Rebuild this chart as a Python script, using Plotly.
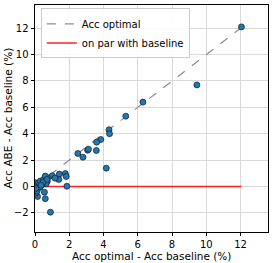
import plotly.graph_objects as go

acc_optimal = [12.05, 9.45, 6.3, 5.3, 4.32, 4.35, 3.84, 3.6, 3.58, 3.07, 3.12, 2.5, 2.8, 4.16,
               1.77, 1.82, 1.86, 1.42, 1.39, 1.01, 1.17, 0.74, 0.72, 0.65, 0.9, 0.6, 0.55, 0.15,
               0.04, 0.02, 0.12, 0.21, 0.31, 0.41, 0.5, 0.6, 0.7, 0.12, 0.21, 0.45, 0.3, 0.05, 0.35]
acc_abe = [12.1, 7.7, 6.4, 5.33, 4.3, 4.0, 3.56, 3.36, 2.73, 2.75, 2.83, 2.5, 2.22, 1.39,
           0.98, 0.76, 0.02, 0.94, 0.53, 0.81, 0.63, 0.66, 0.4, 0.2, -1.95, -0.92, -0.43, -0.76,
           -0.5, 0.28, 0.03, 0.28, 0.41, 0.15, 0.53, 0.79, 0.53, -0.35, -0.1, 0.3, -0.05, -0.15, 0.1]
x_title = "Acc optimal - Acc baseline (%)"
y_title = "Acc ABE - Acc baseline (%)"

xmax = max(acc_optimal)

fig = go.Figure()
fig.add_trace(go.Scatter(x=[0, xmax], y=[0, xmax], mode="lines", name="Acc optimal",
                         line=dict(color="#8c8c8c", dash="dash", width=1.2)))
fig.add_trace(go.Scatter(x=[0, xmax], y=[0, 0], mode="lines", name="on par with baseline",
                         line=dict(color="#ff2020", width=1.5)))
fig.add_trace(go.Scatter(x=acc_optimal, y=acc_abe, mode="markers", showlegend=False,
                         marker=dict(color="#1f77b4", size=6, line=dict(color="#1a1a1a", width=0.7))))

axis_common = dict(showline=True, mirror=True, linecolor="black", linewidth=0.8,
                   showgrid=True, gridcolor="#d9d9d9", gridwidth=1, zeroline=False,
                   ticks="outside", ticklen=3.5, tickwidth=0.8, tickcolor="black",
                   automargin=False,
                   tickfont=dict(family="DejaVu Sans", size=10, color="black"))

fig.update_xaxes(range=[0, 13.6], tickvals=[0, 2, 4, 6, 8, 10, 12], **axis_common)
fig.update_yaxes(range=[-3.45, 13.76], tickvals=[-2, 0, 2, 4, 6, 8, 10, 12],
                 ticktext=["\u22122", "0", "2", "4", "6", "8", "10", "12"], **axis_common)

fig.add_annotation(text=x_title, xref="paper", yref="paper", x=0.5, y=0, yshift=-16,
                   xanchor="center", yanchor="top", showarrow=False,
                   font=dict(family="DejaVu Sans", size=10.5, color="black"))
fig.add_annotation(text=y_title, xref="paper", yref="paper", x=0, y=0.5, xshift=-20,
                   xanchor="right", yanchor="middle", textangle=-90, showarrow=False,
                   font=dict(family="DejaVu Sans", size=10.5, color="black"))

fig.update_layout(width=274, height=263, margin=dict(l=35, r=6, t=5, b=31),
                  plot_bgcolor="white", paper_bgcolor="white",
                  font=dict(family="DejaVu Sans", size=10, color="black"),
                  legend=dict(x=0.025, y=0.985, xanchor="left", yanchor="top",
                              bgcolor="rgba(255,255,255,0.85)", bordercolor="#cccccc", borderwidth=1,
                              font=dict(family="DejaVu Sans", size=10, color="black"),
                              tracegroupgap=0, itemwidth=30))

fig.write_html("out.html", config={"displayModeBar": False},
               post_script="document.body.style.margin='0';")
